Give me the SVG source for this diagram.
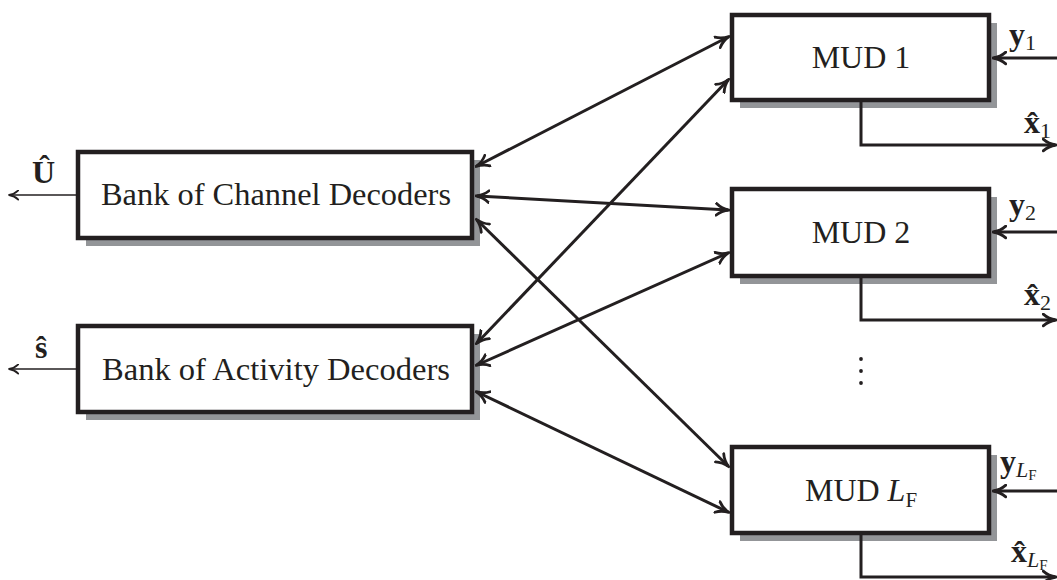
<svg xmlns="http://www.w3.org/2000/svg" width="1057" height="580" viewBox="0 0 1057 580">
  <style>
    .box { fill: #fff; stroke: #231f20; stroke-width: 4.5; }
    .shadow { fill: #939598; }
    .lbl { font-family: "Liberation Serif", "DejaVu Serif", serif; font-size: 32px; fill: #231f20; text-anchor: middle; }
    .sym { font-family: "Liberation Serif", "DejaVu Serif", serif; font-size: 32px; font-weight: bold; fill: #231f20; }
    .sub { font-family: "Liberation Serif", "DejaVu Serif", serif; font-size: 22px; font-weight: normal; fill: #231f20; }
    .subi { font-family: "Liberation Serif", "DejaVu Serif", serif; font-size: 22px; font-weight: normal; font-style: italic; fill: #231f20; }
    .subs { font-family: "Liberation Serif", "DejaVu Serif", serif; font-size: 15px; font-weight: normal; fill: #231f20; }
    .link { fill: none; stroke: #231f20; stroke-width: 3; }
    .thin { fill: none; stroke: #231f20; stroke-width: 1.5; }
  </style>
  <defs>
    <marker id="head" viewBox="0 0 14 14" refX="12" refY="7" markerWidth="15" markerHeight="15" markerUnits="userSpaceOnUse" orient="auto-start-reverse">
      <path d="M1,1.5 Q6,6 13,7 Q6,8 1,12.5" fill="none" stroke="#231f20" stroke-width="2.6" stroke-linecap="round" stroke-linejoin="round"/>
    </marker>
    <marker id="headThin" viewBox="0 0 12 12" refX="10" refY="6" markerWidth="11" markerHeight="11" markerUnits="userSpaceOnUse" orient="auto">
      <path d="M1,1 Q5,5 11,6 Q5,7 1,11" fill="none" stroke="#231f20" stroke-width="2" stroke-linecap="round" stroke-linejoin="round"/>
    </marker>
  </defs>

  <!-- decoder banks -->
  <g id="channel-decoders">
    <rect class="shadow" x="86" y="160" width="394" height="86"/>
    <rect class="box" x="78" y="152" width="394" height="86"/>
    <text class="lbl" x="276" y="205" textLength="350" lengthAdjust="spacingAndGlyphs">Bank of Channel Decoders</text>
  </g>
  <g id="activity-decoders">
    <rect class="shadow" x="86" y="334" width="394" height="86"/>
    <rect class="box" x="78" y="326" width="394" height="86"/>
    <text class="lbl" x="276" y="380" textLength="348" lengthAdjust="spacingAndGlyphs">Bank of Activity Decoders</text>
  </g>

  <!-- multi-user detectors -->
  <g id="mud-1">
    <rect class="shadow" x="740" y="23" width="257" height="85"/>
    <rect class="box" x="732" y="15" width="257" height="85"/>
    <text class="lbl" x="861" y="68">MUD 1</text>
  </g>
  <g id="mud-2">
    <rect class="shadow" x="740" y="197" width="257" height="87"/>
    <rect class="box" x="732" y="189" width="257" height="87"/>
    <text class="lbl" x="861" y="243">MUD 2</text>
  </g>
  <g id="mud-lf">
    <rect class="shadow" x="740" y="455" width="257" height="86"/>
    <rect class="box" x="732" y="447" width="257" height="86"/>
    <text class="lbl" x="861" y="501">MUD <tspan font-style="italic">L</tspan><tspan font-size="21" dy="6">F</tspan></text>
  </g>

  <!-- vertical ellipsis -->
  <g id="ellipsis" fill="#231f20">
    <circle cx="861" cy="359" r="1.9"/>
    <circle cx="861" cy="371" r="1.9"/>
    <circle cx="861" cy="383" r="1.9"/>
  </g>

  <!-- connectors -->
  <g id="connectors">
    <line class="link" x1="477" y1="166" x2="728" y2="37" marker-start="url(#head)" marker-end="url(#head)"/>
    <line class="link" x1="477" y1="196" x2="728" y2="210" marker-start="url(#head)" marker-end="url(#head)"/>
    <line class="link" x1="477" y1="220" x2="728" y2="466" marker-start="url(#head)" marker-end="url(#head)"/>
    <line class="link" x1="477" y1="343" x2="728" y2="80" marker-start="url(#head)" marker-end="url(#head)"/>
    <line class="link" x1="477" y1="365" x2="728" y2="253" marker-start="url(#head)" marker-end="url(#head)"/>
    <line class="link" x1="477" y1="392" x2="728" y2="512" marker-start="url(#head)" marker-end="url(#head)"/>

    <!-- decoder outputs -->
    <line class="thin" x1="78" y1="195" x2="10" y2="195" marker-end="url(#headThin)"/>
    <line class="thin" x1="78" y1="369" x2="10" y2="369" marker-end="url(#headThin)"/>

    <!-- received signals -->
    <line class="link" x1="1057" y1="58" x2="994" y2="58" marker-end="url(#head)"/>
    <line class="link" x1="1057" y1="232" x2="994" y2="232" marker-end="url(#head)"/>
    <line class="link" x1="1057" y1="491" x2="994" y2="491" marker-end="url(#head)"/>

    <!-- symbol estimates -->
    <polyline class="link" points="861,100 861,145 1055,145" marker-end="url(#head)"/>
    <polyline class="link" points="861,276 861,320 1055,320" marker-end="url(#head)"/>
    <polyline class="link" points="861,533 861,577 1055,577" marker-end="url(#head)"/>
  </g>

  <!-- signal labels -->
  <g id="labels">
    <text class="sym" x="32" y="183">Û</text>
    <text class="sym" x="35" y="358">ŝ</text>
    <text class="sym" x="1009" y="45">y<tspan class="sub" dy="5">1</tspan></text>
    <text class="sym" x="1024" y="133">x̂<tspan class="sub" dy="5">1</tspan></text>
    <text class="sym" x="1009" y="215">y<tspan class="sub" dy="5">2</tspan></text>
    <text class="sym" x="1024" y="305">x̂<tspan class="sub" dy="5">2</tspan></text>
    <text class="sym" x="1000" y="472">y<tspan class="subi" dy="5">L</tspan><tspan class="subs" dy="3">F</tspan></text>
    <text class="sym" x="1011" y="562">x̂<tspan class="subi" dy="5">L</tspan><tspan class="subs" dy="3">F</tspan></text>
  </g>
</svg>
